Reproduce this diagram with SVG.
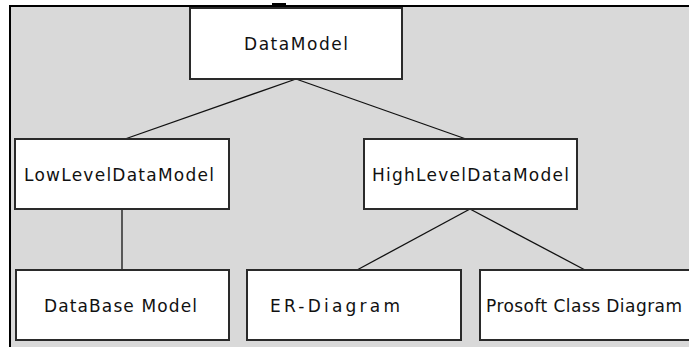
<svg xmlns="http://www.w3.org/2000/svg" width="689" height="347" viewBox="0 0 689 347">
<style>
.box{fill:#ffffff;stroke:#2a2a2a;stroke-width:2}
.lbl{font-family:"DejaVu Sans","Liberation Sans",sans-serif;font-size:17px;fill:#111}
.con{stroke:#111;stroke-width:1.3;fill:none}
</style>
<rect x="0" y="0" width="689" height="347" fill="#ffffff"/>
<rect x="10" y="6" width="679" height="341" fill="#d9d9d9"/>
<g id="frame">
<line x1="10" y1="5" x2="10" y2="347" stroke="#000" stroke-width="2"/>
<line x1="9" y1="6" x2="689" y2="6" stroke="#000" stroke-width="2"/>
<rect x="272" y="3" width="14" height="5" fill="#000"/>
</g>
<g id="connectors">
<line class="con" x1="296" y1="79" x2="125" y2="139"/>
<line class="con" x1="296" y1="79" x2="466" y2="139"/>
<line class="con" x1="122" y1="209" x2="122" y2="270"/>
<line class="con" x1="470" y1="209" x2="357" y2="270"/>
<line class="con" x1="470" y1="209" x2="585" y2="270"/>
</g>
<g id="DataModel">
<rect class="box" x="190" y="8" width="212" height="71"/>
<text class="lbl" x="244" y="50" textLength="104" lengthAdjust="spacing">DataModel</text>
</g>
<g id="LowLevelDataModel">
<rect class="box" x="15" y="139" width="214" height="70"/>
<text class="lbl" x="24" y="181" textLength="190" lengthAdjust="spacing">LowLevelDataModel</text>
</g>
<g id="HighLevelDataModel">
<rect class="box" x="364" y="139" width="213" height="70"/>
<text class="lbl" x="372" y="181" textLength="197" lengthAdjust="spacing">HighLevelDataModel</text>
</g>
<g id="DataBaseModel">
<rect class="box" x="16" y="270" width="213" height="70"/>
<text class="lbl" x="44" y="312" textLength="153" lengthAdjust="spacing">DataBase Model</text>
</g>
<g id="ERDiagram">
<rect class="box" x="247" y="270" width="214" height="70"/>
<text class="lbl" x="270" y="312" textLength="130" lengthAdjust="spacing">ER-Diagram</text>
</g>
<g id="ProsoftClassDiagram">
<rect class="box" x="480" y="270" width="216" height="70"/>
<text class="lbl" x="486" y="312" textLength="196" lengthAdjust="spacing">Prosoft Class Diagram</text>
</g>
</svg>
